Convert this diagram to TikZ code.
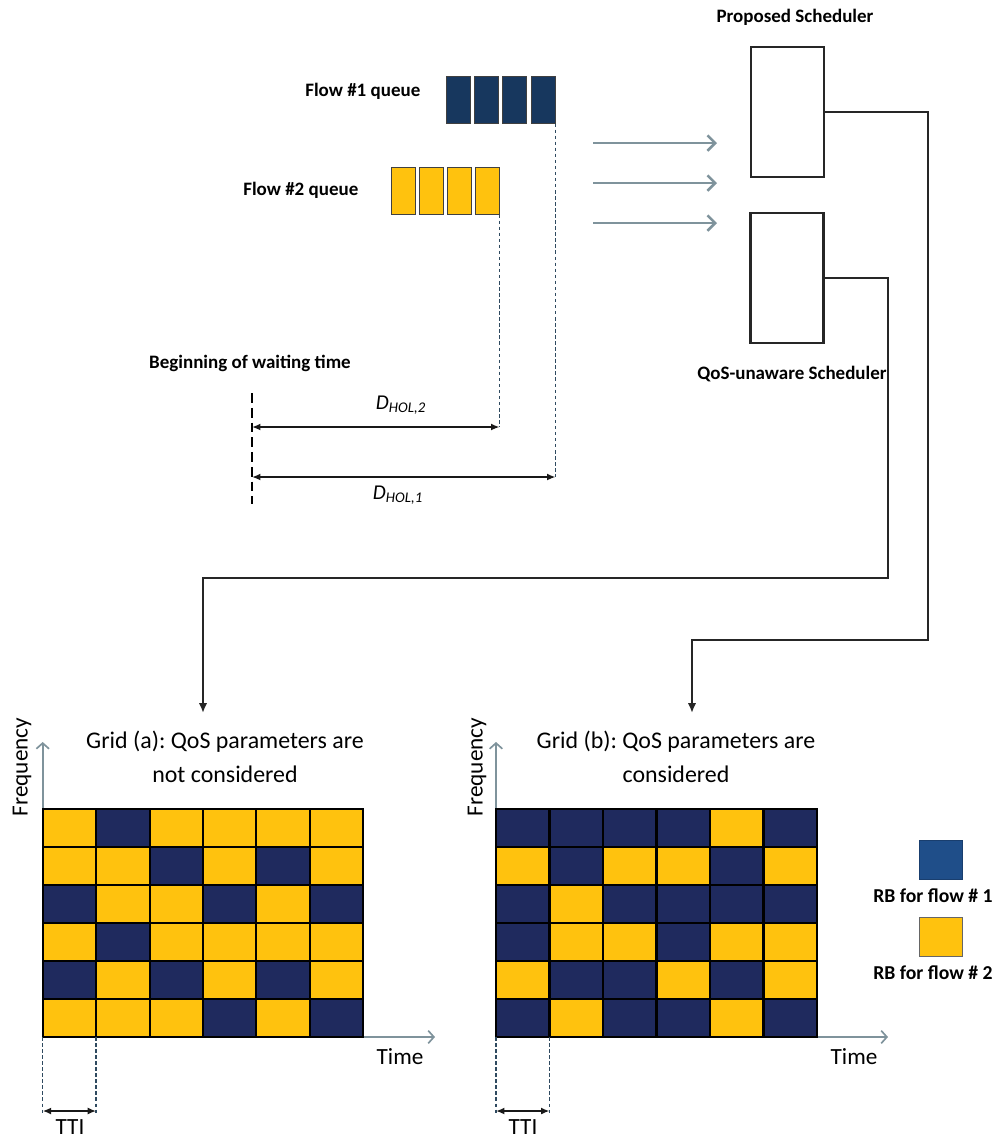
\documentclass[tikz,border=0pt]{standalone}
\usepackage{fontspec}
\setmainfont{Carlito}
\usepackage{xcolor}
\usepackage{tikz}
\usetikzlibrary{arrows,arrows.meta,positioning,fit}

\definecolor{navy}{HTML}{1F2A5E}
\definecolor{qnavy}{HTML}{17375E}
\definecolor{lblue}{HTML}{1F4E89}
\definecolor{amber}{HTML}{FFC20E}
\definecolor{slate}{HTML}{7F939C}
\definecolor{dashc}{HTML}{2F4A60}
\colorlet{Y}{amber}
\colorlet{B}{navy}

\begin{document}
\begin{tikzpicture}
	[x=0.025cm,y=-0.025cm,
	lab/.style={font=\fontsize{13.5}{16}\selectfont\bfseries,inner sep=1pt},
	keylab/.style={font=\fontsize{14}{16}\selectfont\bfseries,inner sep=1pt},
	axlab/.style={font=\fontsize{16.5}{18}\selectfont,inner sep=0pt},
	dlab/.style={font=\fontsize{15}{16}\selectfont\itshape,inner sep=1pt},
	gridtitle/.style={font=\fontsize{17}{24}\selectfont\frenchspacing,align=center,inner sep=1pt},
	qcell/.style={draw=black!75,line width=0.7pt,minimum width=0.6cm,minimum height=1.175cm,inner sep=0pt},
	sched/.style={draw=black!85,line width=2pt,minimum width=1.825cm,minimum height=3.25cm,inner sep=0pt},
	feed/.style={slate,line width=1.8pt,-{Straight Barb[length=5.5pt,width=11pt]}},
	conn/.style={black!85,line width=1.4pt,-{Latex[length=7pt,width=6pt]}},
	dspan/.style={black!90,line width=1.4pt,{Latex[length=6pt,width=5pt]}-{Latex[length=6pt,width=5pt]}},
	guide/.style={dashc,line width=1pt,dash pattern=on 2.5pt off 1.8pt},
	axisline/.style={slate,line width=1.2pt,{Straight Barb[length=4pt,width=9pt]}-{Straight Barb[length=4pt,width=9pt]}},
	cell/.style={draw=black,line width=1.5pt},
	keybox/.style={minimum width=1.075cm,minimum height=0.975cm,inner sep=0pt}]
	\useasboundingbox (0,0) rectangle (1003,1140);

	\foreach \i in {0,...,3}
		\node[qcell,fill=qnavy] (one\i) at ({458.7+28.1*\i},99.5) {};
	\foreach \i in {0,...,3}
		\node[qcell,fill=amber] (two\i) at ({403+28*\i},190.5) {};
	\node[lab,anchor=east] (flowone) at (422,91) {Flow \#1 queue};
	\node[lab,anchor=east] (flowtwo) at (360,190) {Flow \#2 queue};

	\node[sched] (prop) at (787.5,112) {};
	\node[sched] (qos) at (787,278) {};
	\node[lab] (proplab) at (795,17) {Proposed Scheduler};
	\node[lab] (qoslab) at (792,374) {QoS-unaware Scheduler};

	\foreach \y [count=\i] in {143,183,223}{
		\coordinate (fs\i) at (593,\y);
		\coordinate (fe\i) at (717,\y);
		\draw[feed] (fs\i) -- (fe\i);}

	\coordinate (pbend) at (928,640);
	\coordinate (pdrop) at (692,713);
	\draw[conn] (prop.east) -| (pbend) -| (pdrop);
	\coordinate (qbend) at (888,578);
	\coordinate (qdrop) at (203,713);
	\draw[conn] (qos.east) -| (qbend) -| (qdrop);

	\node[lab] (begin) at (250,363) {Beginning of waiting time};
	\coordinate (wtop) at (252,393);
	\coordinate (wbot) at (252,504);
	\draw[black,line width=2pt,dash pattern=on 7pt off 3.5pt] (wtop) -- (wbot);
	\coordinate (dtwo) at (252,427);
	\coordinate (done) at (252,477);
	\draw[guide] (two3.south east) -- (two3.south east |- dtwo);
	\draw[guide] (one3.south east) -- (one3.south east |- done);
	\draw[dspan] (dtwo) -- (two3.south east |- dtwo);
	\draw[dspan] (done) -- (one3.south east |- done);
	\node[dlab] (dtwolab) at (401,405) {D\textsubscript{HOL,2}};
	\node[dlab] (donelab) at (398,495) {D\textsubscript{HOL,1}};

	\coordinate (oa) at (42.7,1037);
	\coordinate (fa) at (42.7,742);
	\coordinate (ta) at (435,1037);
	\draw[axisline] (fa) -- (oa) -- (ta);
	\foreach \rowcols [count=\r from 0] in {{Y,B,Y,Y,Y,Y},{Y,Y,B,Y,B,Y},{B,Y,Y,B,Y,B},{Y,B,Y,Y,Y,Y},{B,Y,B,Y,B,Y},{Y,Y,Y,B,Y,B}}
		\foreach \cc [count=\k from 0] in \rowcols
			\draw[cell,fill=\cc] ({42.7+53.43*\k},{809+38*\r}) rectangle ++(53.43,38);
	\coordinate (ka) at (96.1,1037);
	\coordinate (oa2) at (42.7,1111);
	\coordinate (ka2) at (96.1,1111);
	\draw[guide] (oa) -- ([yshift=-3pt]oa2);
	\draw[guide] (ka) -- ([yshift=-3pt]ka2);
	\draw[dspan] (oa2) -- (ka2);
	\node[axlab,rotate=90] (freqa) at (22,767) {Frequency};
	\node[axlab] (timea) at (400,1057) {Time};
	\node[axlab] (ttia) at (70,1127) {TTI};
	\node[gridtitle] (grida) at (225,757) {Grid (a): QoS parameters are\\not considered};

	\coordinate (ob) at (496,1037);
	\coordinate (fb) at (496,742);
	\coordinate (tb) at (888,1037);
	\draw[axisline] (fb) -- (ob) -- (tb);
	\foreach \rowcols [count=\r from 0] in {{B,B,B,B,Y,B},{Y,B,Y,Y,B,Y},{B,Y,B,B,B,B},{B,Y,Y,B,Y,Y},{Y,B,B,Y,B,Y},{B,Y,B,B,Y,B}}
		\foreach \cc [count=\k from 0] in \rowcols
			\draw[cell,fill=\cc] ({496+53.5*\k},{809+38*\r}) rectangle ++(53.5,38);
	\coordinate (kb) at (549.5,1037);
	\coordinate (ob2) at (496,1111);
	\coordinate (kb2) at (549.5,1111);
	\draw[guide] (ob) -- ([yshift=-3pt]ob2);
	\draw[guide] (kb) -- ([yshift=-3pt]kb2);
	\draw[dspan] (ob2) -- (kb2);
	\node[axlab,rotate=90] (freqb) at (477,767) {Frequency};
	\node[axlab] (timeb) at (854,1057) {Time};
	\node[axlab] (ttib) at (523,1127) {TTI};
	\node[gridtitle] (gridb) at (676,757) {Grid (b): QoS parameters are\\considered};

	\node[keybox,fill=lblue,draw=lblue!80!black] (keyone) at (940.5,859.5) {};
	\node[keybox,fill=amber,draw=black!60] (keytwo) at (940.5,937) {};
	\node[keylab] (keyonelab) at (933,896) {RB for flow \# 1};
	\node[keylab] (keytwolab) at (933,973) {RB for flow \# 2};
\end{tikzpicture}
\end{document}
